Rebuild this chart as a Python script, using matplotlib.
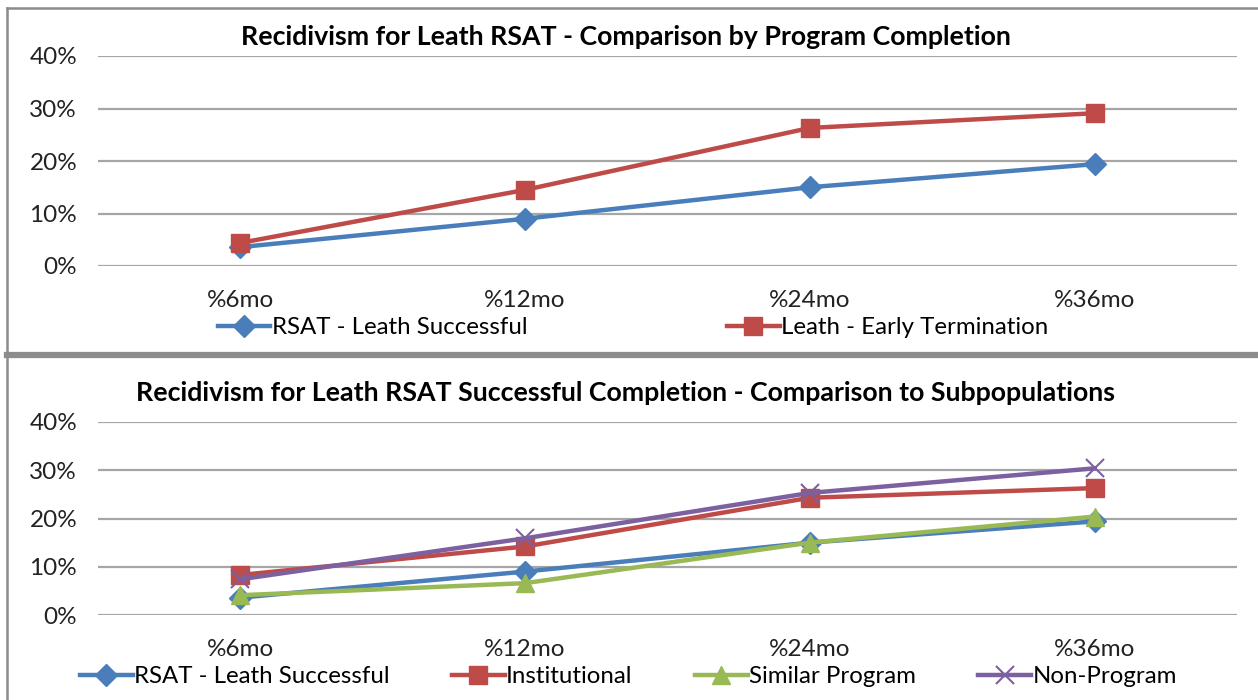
import matplotlib
matplotlib.use("Agg")
import matplotlib.pyplot as plt
from matplotlib.lines import Line2D
from matplotlib.ticker import PercentFormatter

plt.rcParams['font.family'] = ['Lato', 'DejaVu Sans']

# 数据
categories = ['%6mo', '%12mo', '%24mo', '%36mo']
rsat_successful = [3.6, 9.0, 15.0, 19.4]
early_termination = [4.4, 14.5, 26.3, 29.1]
institutional = [8.3, 14.2, 24.3, 26.3]
similar_program = [4.1, 6.6, 15.0, 20.4]
non_program = [7.4, 15.9, 25.3, 30.4]

title_top = 'Recidivism for Leath RSAT - Comparison by Program Completion'
title_bottom = 'Recidivism for Leath RSAT Successful Completion - Comparison to Subpopulations'

BLUE = '#4A7EBB'
RED = '#BE4B48'
GREEN = '#98B954'
PURPLE = '#7D60A0'
GRID = '#A6A6A6'

W, H = 1258, 700
fig = plt.figure(figsize=(W / 100, H / 100), dpi=100)


def px_axes(x0, y0, x1, y1):
    # 像素坐标 (左上原点) -> figure 坐标
    return fig.add_axes([x0 / W, 1 - y1 / H, (x1 - x0) / W, (y1 - y0) / H])


def style_axes(ax, title, title_y):
    ax.set_xlim(-0.5, 3.5)
    ax.set_ylim(0, 40)
    ax.set_yticks([0, 10, 20, 30, 40])
    ax.yaxis.set_major_formatter(PercentFormatter(decimals=0))
    ax.set_xticks(range(4))
    ax.set_xticklabels(categories)
    for s in ax.spines.values():
        s.set_visible(False)
    ax.grid(axis='y', color=GRID, lw=1.6)
    ax.set_axisbelow(True)
    ax.tick_params(length=0, labelsize=17.5, colors='#222222')
    ax.tick_params(axis='y', pad=15)
    ax.tick_params(axis='x', pad=17)
    fig.text(626 / W, 1 - title_y / H, title, ha='center', va='center',
             fontsize=19.3, fontweight='bold', color='black')


# 上图
ax1 = px_axes(98, 56, 1237, 266)
ax1.plot(range(4), rsat_successful, color=BLUE, lw=3.2, marker='D', ms=11, label='RSAT - Leath Successful')
ax1.plot(range(4), early_termination, color=RED, lw=3.2, marker='s', ms=12.5, label='Leath - Early Termination')
style_axes(ax1, title_top, 37)
ax1.legend(loc='center left', bbox_to_anchor=(0.086, -0.295), ncol=2, frameon=False,
           fontsize=17.3, columnspacing=8.3, handlelength=2.2, handletextpad=0.05)

# 下图
ax2 = px_axes(98, 422, 1237, 615)
ax2.plot(range(4), rsat_successful, color=BLUE, lw=3.2, marker='D', ms=11, label='RSAT - Leath Successful')
ax2.plot(range(4), institutional, color=RED, lw=3.2, marker='s', ms=12.5, label='Institutional')
ax2.plot(range(4), similar_program, color=GREEN, lw=3.2, marker='^', ms=13, label='Similar Program')
ax2.plot(range(4), non_program, color=PURPLE, lw=3.2, marker='x', ms=13, mew=1.5, label='Non-Program')
style_axes(ax2, title_bottom, 393)
ax2.legend(loc='center left', bbox_to_anchor=(-0.035, -0.321), ncol=4, frameon=False,
           fontsize=17.3, columnspacing=2.6, handlelength=2.2, handletextpad=0.05)

# 边框
fig.add_artist(Line2D([7 / W, 7 / W], [0, 1 - 8 / H], transform=fig.transFigure, color='#8C8C8C', lw=1.8))
fig.add_artist(Line2D([7 / W, 1], [1 - 8 / H, 1 - 8 / H], transform=fig.transFigure, color='#8C8C8C', lw=1.8))
fig.add_artist(Line2D([7 / W, 1], [1 - 354.5 / H, 1 - 354.5 / H], transform=fig.transFigure, color='#8C8C8C', lw=4.5))

fig.savefig('out.png', dpi=100, facecolor='white')
